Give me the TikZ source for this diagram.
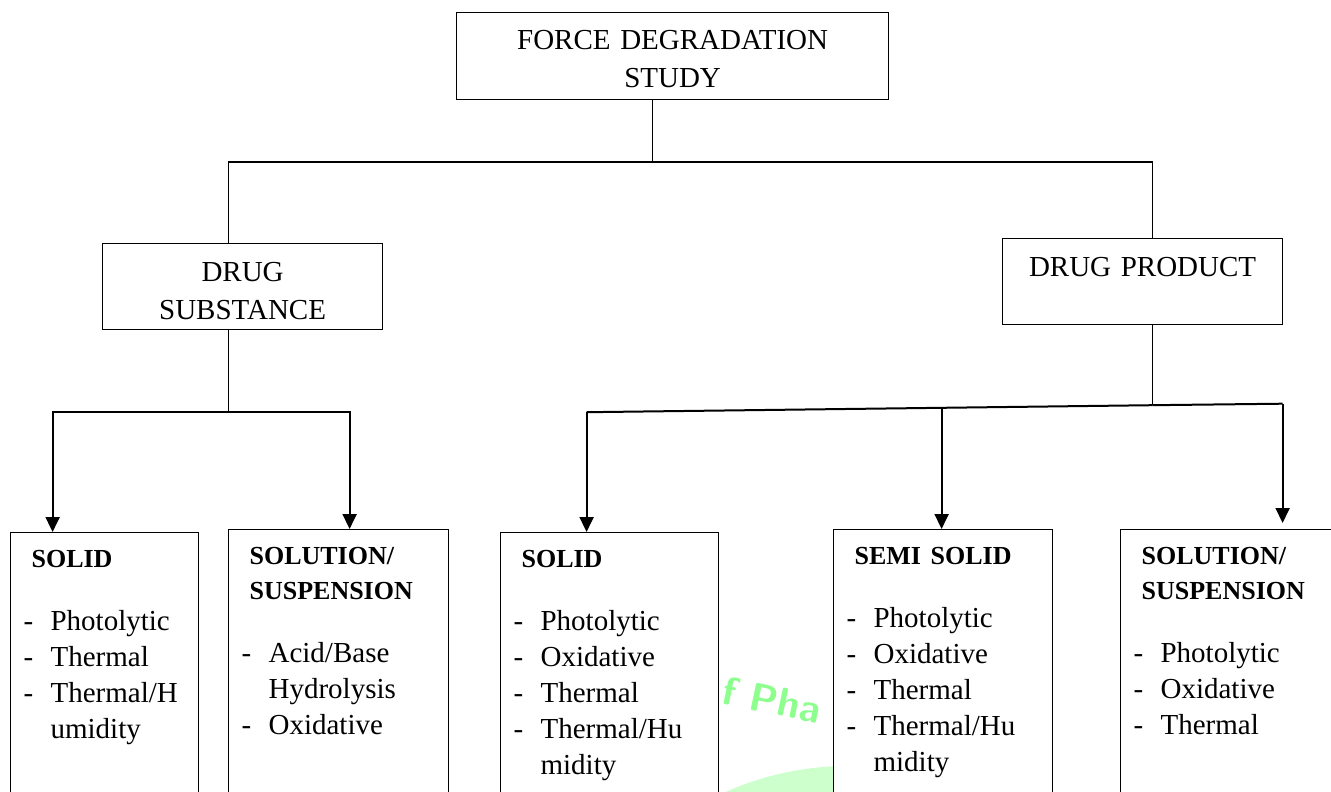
\documentclass[tikz,border=0pt]{standalone}
\usepackage{fontspec}
\setmainfont{Liberation Serif}
\usetikzlibrary{positioning,calc,arrows.meta}

% list lines inside the leaf boxes
\newcommand{\hd}[1]{{\bfseries\fontsize{26}{35}\selectfont\noindent\hspace*{8pt}#1\par}}
\newcommand{\itm}[1]{\noindent\makebox[27pt][l]{-}#1\par}
\newcommand{\cont}[1]{\noindent\hspace*{27pt}#1\par}

\begin{document}
\begin{tikzpicture}[x=1pt, y=-1pt]
    \tikzset{topbox/.style={rectangle, draw, line width=1.2pt, fill=white, anchor=north west, inner xsep=8pt, inner ysep=0pt, text width=#1, text height=38pt, text depth=48pt, align=center, font=\fontsize{29}{38}\selectfont}}
    \tikzset{leaf/.style={rectangle, draw, line width=1.2pt, fill=white, anchor=north west, inner xsep=13pt, inner ysep=0pt, text width=#1, text height=35pt, text depth=300pt, align=left, font=\fontsize{29}{36}\selectfont}}
    \tikzset{link/.style={draw, line width=1.5pt}}
    \tikzset{arrow/.style={draw, line width=2pt, -{Triangle[length=15pt, width=14pt]}}}

    \useasboundingbox (0,0) rectangle (1331,792);
    \clip (0,0) rectangle (1331,792);

    % watermark
    \fill[green!40!white, opacity=0.5] (848,1066) circle (300);
    \node[text=green!45!white, font=\sffamily\bfseries\fontsize{40}{40}\selectfont, rotate=-12] (wm) at (772,700) {f Pha};

    % top levels
    \node [topbox=416pt, text height=37pt, text depth=50pt] (fds) at (456,12) {FORCE DEGRADATION\\STUDY};
    \node [topbox=264pt] (ds) at (102,243) {DRUG\\SUBSTANCE};
    \node [topbox=264pt] (dp) at (1002,238) {DRUG PRODUCT\\ };

    % drug substance leaves
    \node [leaf=162pt] (ds_solid) at (10,532) {\hd{SOLID}\vspace{27pt}\itm{Photolytic}\itm{Thermal}\itm{Thermal/H}\cont{umidity}};
    \node [leaf=194pt] (ds_sol) at (228,529) {\hd{SOLUTION/}\hd{SUSPENSION}\vspace{27pt}\itm{Acid/Base}\cont{Hydrolysis}\itm{Oxidative}};

    % drug product leaves
    \node [leaf=192pt] (dp_solid) at (500,532) {\hd{SOLID}\vspace{27pt}\itm{Photolytic}\itm{Oxidative}\itm{Thermal}\itm{Thermal/Hu}\cont{midity}};
    \node [leaf=193pt] (dp_semi) at (833,529) {\hd{SEMI SOLID}\vspace{27pt}\itm{Photolytic}\itm{Oxidative}\itm{Thermal}\itm{Thermal/Hu}\cont{midity}};
    \node [leaf=194pt] (dp_sus) at (1120,529) {\hd{SOLUTION/}\hd{SUSPENSION}\vspace{27pt}\itm{Photolytic}\itm{Oxidative}\itm{Thermal}};

    \path [link] ([xshift=-20pt]fds.south) -- ++(0,62) coordinate (tj);
    \path [link] ([xshift=-14pt]ds.north) |- (tj) -| ([xshift=10pt]dp.north);

    \path [link] ([xshift=-14pt]ds.south) -- ++(0,82) coordinate (lj);
    \path [arrow] (lj) -| ([xshift=-52pt]ds_solid.north);
    \path [arrow] (lj) -| ([xshift=11pt]ds_sol.north);

    \path [link] ([xshift=10pt]dp.south) -- ++(0,80) coordinate (rj);
    \draw [line width=2pt] (rj) -- ++(-566,7) coordinate (rl);
    \draw [line width=2pt] (rj) -- ++(130,-1.5) coordinate (rr);
    \coordinate (rm) at ($(rl)!(dp_semi.north)!(rr)$);
    \path [arrow] (rl) -- (rl |- dp_solid.north);
    \path [arrow] (rm) -- (rm |- dp_semi.north);
    \path [arrow, shorten >=6pt] (rr) -- (rr |- dp_sus.north);
\end{tikzpicture}
\end{document}
